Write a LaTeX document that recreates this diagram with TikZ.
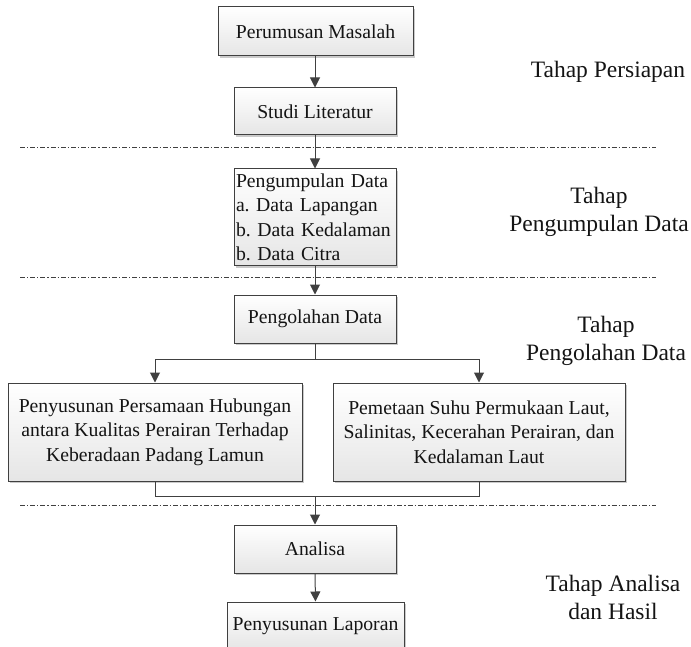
\documentclass[tikz,border=0pt]{standalone}
\usepackage{fontspec}
\setmainfont{Liberation Serif}
\newfontfamily\tnr{Liberation Serif}
\usetikzlibrary{arrows.meta,shadows,positioning}
\definecolor{edge}{HTML}{404040}
\definecolor{txt}{HTML}{141414}
\frenchspacing
\tikzset{
  box/.style={draw=edge, line width=1pt, top color=white, bottom color=black!10,
    drop shadow={shadow xshift=2pt, shadow yshift=-2pt, fill=black!35, opacity=0.6},
    inner sep=2pt, text=txt, font=\tnr\fontsize{19.7}{24.5}\selectfont, align=center},
  arr/.style={draw=edge, line width=1pt, -{Triangle[length=10pt,width=10pt]}},
  link/.style={draw=edge, line width=1pt},
  sep/.style={draw=edge, line width=0.6pt, dash pattern=on 5pt off 2pt on 1.2pt off 2pt},
  stage/.style={text=txt, font=\tnr\fontsize{23.5}{28}\selectfont, align=center, inner sep=0pt}
}
\begin{document}
\begin{tikzpicture}[x=1pt,y=-1pt]
\clip (0,0) rectangle (691,647);
\useasboundingbox (0,0) rectangle (691,647);

\node[box, minimum width=195pt, minimum height=49pt] (b1) at (315.5,31.5) {Perumusan Masalah};
\node[box, minimum width=162pt, minimum height=47pt] (b2) at (315,111.5) {Studi Literatur};
\node[box, minimum width=162pt, minimum height=97pt, text width=158pt, align=left] (b3) at (315,217.5)
  {\hyphenpenalty=10000 Pengumpulan Data\\a. Data Lapangan\\b. Data Kedalaman\\b. Data Citra};
\node[box, minimum width=162pt, minimum height=48pt] (b4) at (315,319) {Pengolahan Data};
\node[box, minimum width=294pt, minimum height=98pt] (b5) at (155,432)
  {Penyusunan Persamaan Hubungan\\antara Kualitas Perairan Terhadap\\Keberadaan Padang Lamun};
\node[box, minimum width=292pt, minimum height=98pt] (b6) at (479,432)
  {Pemetaan Suhu Permukaan Laut,\\Salinitas, Kecerahan Perairan, dan\\Kedalaman Laut};
\node[box, minimum width=162pt, minimum height=48pt] (b7) at (315,549) {Analisa};
\node[box, minimum width=177pt, minimum height=48pt] (b8) at (315.5,626) {Penyusunan Laporan};

\coordinate (s1a) at (20,147);  \coordinate (s1b) at (656,147);
\coordinate (s2a) at (20,277);  \coordinate (s2b) at (656,277);
\coordinate (s3a) at (20,505);  \coordinate (s3b) at (656,505);
\draw[sep] (s1a) -- (s1b);
\draw[sep] (s2a) -- (s2b);
\draw[sep] (s3a) -- (s3b);

\coordinate (split) at (315,359);
\coordinate (merge) at (315,496);

\draw[arr] (b1.south -| b2.north) -- (b2.north);
\draw[arr] (b2.south) -- (b3.north);
\draw[arr] (b3.south) -- (b4.north);
\draw[link] (b4.south) -- (split);
\draw[arr] (split) -| (b5.north);
\draw[arr] (split) -| (b6.north);
\draw[link] (b5.south) |- (merge);
\draw[link] (b6.south) |- (merge);
\draw[arr] (merge) -- (b7.north);
\draw[arr] (b7.south) -- (b8.north);

\node[stage] (t1) at (608,72) {Tahap Persiapan};
\node[stage] (t2) at (599,212) {Tahap\\Pengumpulan Data};
\node[stage] (t3) at (606,341) {Tahap\\Pengolahan Data};
\node[stage] (t4) at (613,597) {Tahap Analisa\\dan Hasil};
\end{tikzpicture}
\end{document}
